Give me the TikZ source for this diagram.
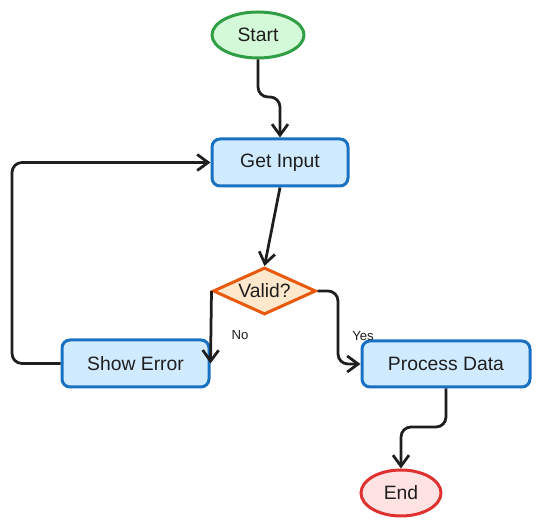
\documentclass[tikz,border=0pt]{standalone}
\usepackage{fontspec}
\setmainfont{Liberation Sans}
\usepackage{tikz}
\usetikzlibrary{arrows.meta,shapes.geometric,calc}
\definecolor{ink}{HTML}{1E1E1E}
\definecolor{startFill}{HTML}{D3F9D8}
\definecolor{startDraw}{HTML}{2F9E44}
\definecolor{procFill}{HTML}{D0EBFF}
\definecolor{procDraw}{HTML}{1971C2}
\definecolor{decFill}{HTML}{FFE8CC}
\definecolor{decDraw}{HTML}{E8590C}
\definecolor{endFill}{HTML}{FFE3E3}
\definecolor{endDraw}{HTML}{E03131}
\tikzset{
  font=\fontsize{11}{13}\selectfont,
  box/.style  ={draw, align=center, inner sep=0pt, line width=0.6mm, text=ink},
  term/.style ={box, ellipse, minimum height=9.2mm},
  proc/.style ={box, rectangle, rounded corners=1.6mm, minimum height=9.4mm, fill=procFill, draw=procDraw},
  dec/.style  ={box, diamond, aspect=2.2, minimum width=20.6mm, minimum height=9.4mm, fill=decFill, draw=decDraw},
  arr/.style  ={-{Straight Barb[length=2.2mm,width=3.2mm]}, line width=0.55mm, draw=ink, rounded corners=2mm},
  lbl/.style  ={font=\fontsize{7.5}{9}\selectfont, text=ink},
}
\begin{document}
\begin{tikzpicture}
  \useasboundingbox (0,0) rectangle (10.82,-10.52);

  \node[term, minimum width=18.4mm, fill=startFill, draw=startDraw] (start) at (5.16,-0.70) {Start};
  \node[proc, minimum width=27.2mm] (getin)    at (5.60,-3.25) {Get Input};
  \node[dec]                        (valid)    at (5.29,-5.82) {Valid?};
  \node[proc, minimum width=29.4mm] (showerr)  at (2.71,-7.27) {Show Error};
  \node[proc, minimum width=33.6mm, minimum height=9.2mm] (procdata) at (8.92,-7.28) {Process Data};
  \node[term, minimum width=16mm, fill=endFill, draw=endDraw] (end) at (8.02,-9.86) {End};

  \coordinate (m1) at (0,-1.94);
  \coordinate (m2) at (6.76,0);
  \coordinate (m3) at (0.24,0);
  \coordinate (m4) at (0,-8.54);

  \draw[arr] (start.south) -- (start.south |- m1) -- (getin.north |- m1) -- (getin.north);
  \draw[arr] (getin.south) -- (valid.north);
  \draw[arr] (valid.west) -- (showerr.east);
  \draw[arr] (valid.east) -- (m2 |- valid.east) -- (m2 |- procdata.west) -- (procdata.west);
  \draw[arr] (showerr.west) -- (m3 |- showerr.west) -- (m3 |- getin.west) -- (getin.west);
  \draw[arr] (procdata.south) -- (procdata.south |- m4) -- (end.north |- m4) -- (end.north);

  \node[lbl] (no)  at (4.80,-6.70) {No};
  \node[lbl] (yes) at (7.26,-6.72) {Yes};
\end{tikzpicture}
\end{document}
